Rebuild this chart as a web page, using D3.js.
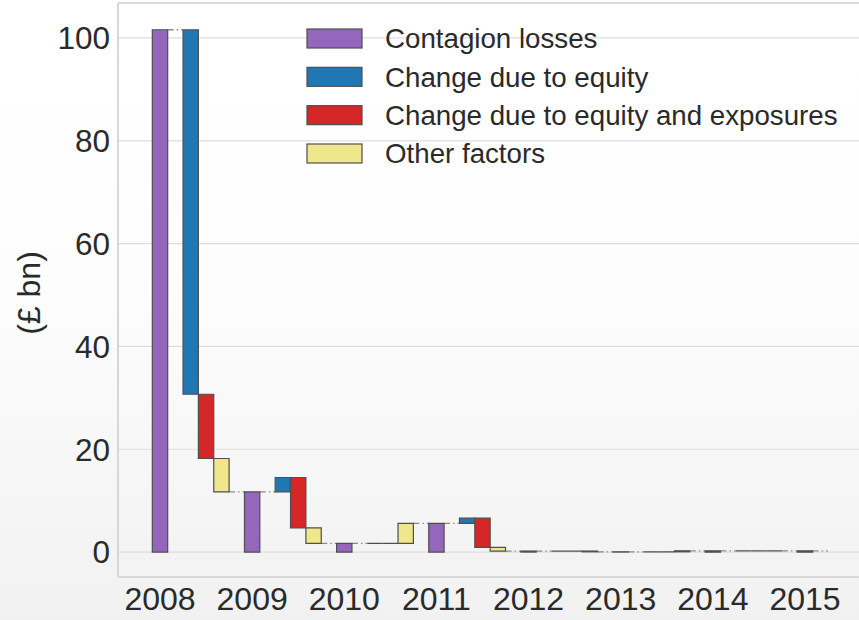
<!DOCTYPE html>
<html>
<head>
<meta charset="utf-8">
<script src="https://cdn.jsdelivr.net/npm/d3@7"></script>
<style>
  html, body { margin: 0; padding: 0; background: #fff; }
  svg { display: block; font-family: "Liberation Sans", Arial, sans-serif; }
</style>
</head>
<body>
<svg id="chart" width="859" height="620"></svg>
<script>
// Contagion losses and the drivers of their year-on-year change (£ bn)
const years = [2008, 2009, 2010, 2011, 2012, 2013, 2014, 2015];
const contagionLosses = [101.6, 11.7, 1.7, 5.6, 0.2, 0.05, 0.25, 0.25];
const equityChange    = [-70.9, 2.8, 0, 1.0, 0, 0, 0, null];
const exposureChange  = [-12.5, -9.8, 0, -5.7, 0, 0, 0, null];
const otherChange     = [-6.5, -3.0, 3.9, -0.7, -0.15, 0.2, 0, null];

const seriesNames = ["Contagion losses", "Change due to equity",
                     "Change due to equity and exposures", "Other factors"];
const seriesColors = ["#9467bd", "#1f77b4", "#d62728", "#f0e68c"];
const yTicks = [0, 20, 40, 60, 80, 100];

const W = 859, H = 620;
const plot = { left: 118, top: 3, bottom: 577, right: 880 };

const svg = d3.select("#chart");

// soft vertical background shading
const defs = svg.append("defs");
const grad = defs.append("linearGradient").attr("id", "bg")
  .attr("x1", 0).attr("y1", 0).attr("x2", 0).attr("y2", 1);
grad.append("stop").attr("offset", "0%").attr("stop-color", "#ffffff");
grad.append("stop").attr("offset", "45%").attr("stop-color", "#fdfdfd");
grad.append("stop").attr("offset", "100%").attr("stop-color", "#f1f1f1");
svg.append("rect").attr("width", W).attr("height", H).attr("fill", "url(#bg)");

// scales: one band per year, each split into six sub-slots
const yearStep = 92.14;
const x = d3.scaleBand()
  .domain(years)
  .range([160 - yearStep / 12, 160 - yearStep / 12 + yearStep * years.length])
  .padding(0);
const slot = d3.scaleBand()
  .domain(["contagion", "lead", "equity", "exposure", "other", "trail"])
  .range([0, x.bandwidth()])
  .padding(0);
const y = d3.scaleLinear().domain([-4.85, 106.8]).range([plot.bottom, plot.top]);

// horizontal grid
svg.append("g")
  .selectAll("line").data(yTicks).join("line")
  .attr("x1", plot.left).attr("x2", plot.right)
  .attr("y1", d => y(d)).attr("y2", d => y(d))
  .attr("stroke", "#dedede").attr("stroke-width", 1.2);

// axes frame
const frame = svg.append("g").attr("stroke", "#cfcfcf").attr("stroke-width", 1.6);
frame.append("line").attr("x1", plot.left).attr("x2", plot.left)
  .attr("y1", plot.top).attr("y2", plot.bottom);
frame.append("line").attr("x1", plot.left).attr("x2", plot.right)
  .attr("y1", plot.top).attr("y2", plot.top);
frame.append("line").attr("x1", plot.left).attr("x2", plot.right)
  .attr("y1", plot.bottom).attr("y2", plot.bottom);

// build waterfall steps
const steps = [];
const connectors = [];
years.forEach((yr, i) => {
  const x0 = x(yr);
  let level = contagionLosses[i];
  steps.push({ key: "contagion", year: yr, from: 0, to: level, color: seriesColors[0] });
  connectors.push({ x1: x0 + slot("contagion") + slot.bandwidth(),
                    x2: x0 + slot("equity"), v: level });
  const changes = [["equity", equityChange[i], seriesColors[1]],
                   ["exposure", exposureChange[i], seriesColors[2]],
                   ["other", otherChange[i], seriesColors[3]]];
  changes.forEach(([key, delta, color]) => {
    if (delta === null) return;
    steps.push({ key, year: yr, from: level, to: level + delta, color });
    level += delta;
  });
  if (otherChange[i] !== null && i + 1 < years.length) {
    connectors.push({ x1: x0 + slot("other") + slot.bandwidth(),
                      x2: x(years[i + 1]) + slot("contagion"), v: level });
  }
});

// dash-dot connectors between consecutive levels
svg.append("g")
  .selectAll("line").data(connectors).join("line")
  .attr("x1", d => d.x1).attr("x2", d => d.x2)
  .attr("y1", d => y(d.v)).attr("y2", d => y(d.v))
  .attr("stroke", "#8a8a8a").attr("stroke-width", 1.3)
  .attr("stroke-dasharray", "6,3,1.5,3");

// bars drawn as closed paths so zero-height steps still show their edge
svg.append("g")
  .selectAll("path").data(steps).join("path")
  .attr("d", d => {
    const xa = x(d.year) + slot(d.key), xb = xa + slot.bandwidth();
    const ya = y(Math.max(d.from, d.to)), yb = y(Math.min(d.from, d.to));
    return `M${xa},${ya}H${xb}V${yb}H${xa}Z`;
  })
  .attr("fill", d => d.color)
  .attr("stroke", "#4f4f4f").attr("stroke-width", 1.2)
  .attr("stroke-linejoin", "miter");

// y tick labels
svg.append("g")
  .selectAll("text").data(yTicks).join("text")
  .attr("x", 110).attr("y", d => y(d))
  .attr("dy", "0.36em")
  .attr("text-anchor", "end")
  .attr("font-size", 31.5).attr("fill", "#2a2a2a")
  .text(d => d);

// x tick labels
svg.append("g")
  .selectAll("text").data(years).join("text")
  .attr("x", d => x(d) + slot("contagion") + slot.bandwidth() / 2)
  .attr("y", 609.5)
  .attr("text-anchor", "middle")
  .attr("font-size", 32).attr("fill", "#2a2a2a")
  .text(d => d);

// y axis title
svg.append("text")
  .attr("transform", "translate(40,293) rotate(-90)")
  .attr("text-anchor", "middle")
  .attr("font-size", 32).attr("fill", "#2a2a2a")
  .text("(£ bn)");

// legend
const legend = svg.append("g");
const rowY = d3.scalePoint().domain(seriesNames).range([38.5, 153.5]);
legend.selectAll("rect").data(seriesNames).join("rect")
  .attr("x", 307).attr("y", d => rowY(d) - 9.5)
  .attr("width", 55).attr("height", 19)
  .attr("fill", (d, i) => seriesColors[i])
  .attr("stroke", "#4f4f4f").attr("stroke-width", 1.2);
legend.selectAll("text").data(seriesNames).join("text")
  .attr("x", 385).attr("y", d => rowY(d))
  .attr("dy", "0.36em")
  .attr("font-size", 27.7).attr("fill", "#2a2a2a")
  .text(d => d);
</script>
</body>
</html>
